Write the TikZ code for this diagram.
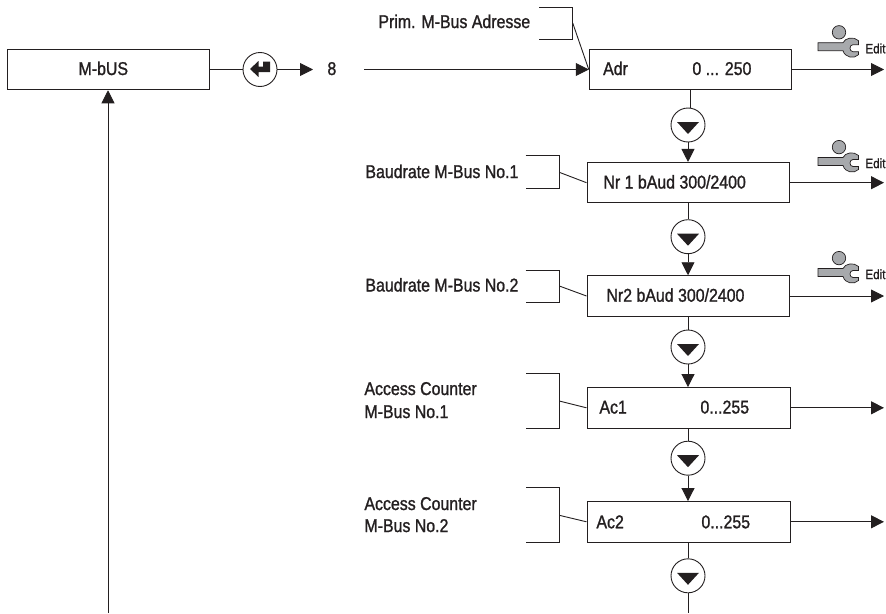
\documentclass[tikz,border=0pt]{standalone}
\usepackage{fontspec}
\setmainfont[FakeStretch=0.86,FakeBold=1.2]{Liberation Sans}
\usetikzlibrary{arrows.meta,calc}
\definecolor{ink}{HTML}{231F20}
\definecolor{toolgray}{HTML}{A7A9AC}
\tikzset{
  every path/.style={line width=0.9pt},
  arr/.style={-{Triangle[length=13pt,width=13pt,fill=ink]}},
  txt/.style={anchor=base west,inner sep=0pt,font=\fontsize{18.5}{21}\selectfont,text=ink},
  smalltxt/.style={anchor=base west,inner sep=0pt,font=\fontsize{13.5}{15}\selectfont,text=ink},
  mbox/.style={rectangle,draw=ink,line width=1pt,inner sep=0pt,minimum width=#1,minimum height=40.5pt},
  ring/.style={circle,draw=ink,line width=0.9pt,inner sep=0pt,minimum size=34pt},
  downmark/.pic={\fill[ink,draw=none] (-11,-3) -- (11,-3) -- (0,9) -- cycle;},
  tool/.pic={
    \filldraw[fill=toolgray,draw=ink,line width=0.7pt] (21,-14.4) circle (6.7);
    \filldraw[fill=toolgray,draw=ink,line width=0.7pt] (0,-4) -- (25,-4) .. controls (27,-9) and (36,-10.5) .. (40.5,-6) -- (40.5,-2) -- (35,-2) .. controls (31,-2) and (31,5) .. (35,5) -- (40.5,5) -- (40.5,8) .. controls (36,12.5) and (27,11) .. (25,4) -- (0,4) -- cycle;
    \node[smalltxt] (-edit) at (47,6.6) {Edit};
  }
}
\begin{document}
\begin{tikzpicture}[x=1pt,y=-1pt,color=ink]
\useasboundingbox (0,0) rectangle (886,613);
% main boxes
\node[mbox=202.5pt] (mbus) at (108.25,69.5) {};
\node[mbox=202.5pt] (adr) at (690.5,69.5) {};
\node[mbox=202pt] (nr1) at (688,182.7) {};
\node[mbox=202pt] (nr2) at (688,296) {};
\node[mbox=203pt] (ac1) at (688.5,407.8) {};
\node[mbox=203pt] (ac2) at (688.5,521.8) {};
% round symbols
\node[ring] (ent) at (260,69.5) {};
\node[ring] (c1) at (688,125) {};
\node[ring] (c2) at (688,236.7) {};
\node[ring] (c3) at (688,347) {};
\node[ring] (c4) at (688,458.2) {};
\node[ring] (c5) at (688,575.8) {};
\fill[ink,draw=none] (250,69) -- (258.5,61) -- (258.5,66.5) -- (263,66.5) -- (263,61.5) -- (270,61.5) -- (270,72) -- (258.5,72) -- (258.5,77) -- cycle;
\foreach \c in {c1,c2,c3,c4,c5} \pic at (\c) {downmark};
% texts
\node[txt,anchor=base] (tmbus) at (103.3,75) {M-bUS};
\node[txt] (eight) at (327,75) {8};
\node[txt] (tadr) at (602.7,75) {Adr};
\node[txt] (vadr) at (692,75) {0 ... 250};
\node[txt] (tnr1) at (603,188.5) {Nr 1 bAud 300/2400};
\node[txt] (tnr2) at (606,301.7) {Nr2 bAud 300/2400};
\node[txt] (tac1) at (599,413.5) {Ac1};
\node[txt] (vac1) at (700,413.5) {0...255};
\node[txt] (tac2) at (596,528.3) {Ac2};
\node[txt] (vac2) at (701,528.3) {0...255};
\node[txt] (lprim) at (378,28) {Prim. M-Bus Adresse};
\node[txt] (lb1) at (365,178) {Baudrate M-Bus No.1};
\node[txt] (lb2) at (365,291.5) {Baudrate M-Bus No.2};
\node[txt] (la1a) at (364,395) {Access Counter};
\node[txt] (la1b) at (364,418) {M-Bus No.1};
\node[txt] (la2a) at (364,510) {Access Counter};
\node[txt] (la2b) at (364,532) {M-Bus No.2};
% free ends
\coordinate (back) at (108,613);
\coordinate (eightout) at (313,69.5);
\coordinate (eightin) at (364,69.5);
\coordinate (r1) at (884,69.5);
\coordinate (r2) at (884,182.7);
\coordinate (r3) at (884,296);
\coordinate (r4) at (884,407.8);
\coordinate (r5) at (884,521.8);
\coordinate (out) at (688,613);
% brackets
\draw (539,7.3) -- (572.7,7.3) -- (572.7,39.7) -- (539,39.7);
\coordinate (b0) at (572.7,23);
\draw (525.7,155.3) -- (559.3,155.3) -- (559.3,188) -- (525.7,188);
\coordinate (b1) at (559.3,172.3);
\draw (525.7,270) -- (559.3,270) -- (559.3,302.7) -- (525.7,302.7);
\coordinate (b2) at (559.3,286);
\draw (526,373.3) -- (559.3,373.3) -- (559.3,428.3) -- (526,428.3);
\coordinate (b3) at (559.3,401);
\draw (526,487.3) -- (559.3,487.3) -- (559.3,542.5) -- (526,542.5);
\coordinate (b4) at (559.3,515.3);
\draw (b0) -- (adr.west);
\draw (b1) -- (nr1.west);
\draw (b2) -- (nr2.west);
\draw (b3) -- (ac1.west);
\draw (b4) -- (ac2.west);
% connectors
\draw[arr] (back) -- (back |- mbus.south);
\draw (mbus.east) -- (ent.west);
\draw[arr] (ent.east) -- (eightout);
\draw[arr] (eightin) -- (adr.west);
\draw (adr.south) -- (adr.south |- c1.north);
\draw[arr] (c1.south) -- (nr1.north);
\draw (nr1.south) -- (c2.north);
\draw[arr] (c2.south) -- (nr2.north);
\draw (nr2.south) -- (c3.north);
\draw[arr] (c3.south) -- (c3.south |- ac1.north);
\draw (ac1.south -| c4.north) -- (c4.north);
\draw[arr] (c4.south) -- (c4.south |- ac2.north);
\draw (ac2.south -| c5.north) -- (c5.north);
\draw (c5.south) -- (out);
\draw[arr] (adr.east) -- (r1);
\draw[arr] (nr1.east) -- (r2);
\draw[arr] (nr2.east) -- (r3);
\draw[arr] (ac1.east) -- (r4);
\draw[arr] (ac2.east) -- (r5);
% tools
\pic (e1) at (818,46.7) {tool};
\pic (e2) at (818,161.5) {tool};
\pic (e3) at (818,272.5) {tool};
\end{tikzpicture}
\end{document}
